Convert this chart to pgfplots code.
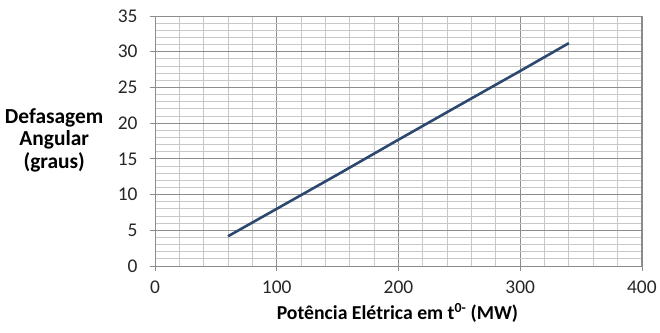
\documentclass[border=0pt]{standalone}
\usepackage{fontspec}
\setmainfont{Carlito}
\usepackage{pgfplots}
\pgfplotsset{compat=1.18}
\definecolor{majgrid}{RGB}{140,140,140}
\definecolor{mingrid}{RGB}{200,200,200}
\definecolor{lineblue}{RGB}{44,72,112}
\begin{document}
\begin{tikzpicture}
\begin{axis}[
  scale only axis,
  width=487bp, height=250bp,
  xmin=0, xmax=400, ymin=0, ymax=35,
  xtick={0,100,200,300,400},
  ytick={0,5,10,15,20,25,30,35},
  minor x tick num=4,
  minor y tick num=4,
  grid=both,
  major grid style={draw=majgrid, line width=0.8bp},
  minor grid style={draw=mingrid, line width=0.8bp},
  axis line style={draw=majgrid, line width=0.9bp},
  tick align=outside,
  major tick length=5bp,
  minor tick length=0pt,
  tick style={draw=majgrid, line width=0.8bp},
  xtick pos=bottom, ytick pos=left,
  /pgf/number format/assume math mode=true,
  tick label style={font=\fontsize{19.5}{22}\selectfont, text=black!85},
  xticklabel style={yshift=-6bp},
  yticklabel style={xshift=-9bp},
  xlabel={\textbf{Potência Elétrica em t\textsuperscript{0-} (MW)}},
  xlabel style={font=\fontsize{19.8}{22}\selectfont, at={(axis description cs:0.498,0)}, anchor=center, yshift=-47bp},
  ylabel={\textbf{Defasagem}\\\textbf{Angular}\\\textbf{(graus)}},
  ylabel style={rotate=-90, font=\fontsize{21.5}{22.5}\selectfont, align=center, at={(axis description cs:-0.207,0.504)}, anchor=center},
]
\addplot[lineblue, line width=2.6bp] coordinates {
  (60,4.16) (100,8.0) (150,12.8) (200,17.68) (250,22.5) (300,27.3) (340,31.2)
};
\end{axis}
\useasboundingbox (-155bp,-67bp) rectangle (505bp,266bp);
\end{tikzpicture}
\end{document}
